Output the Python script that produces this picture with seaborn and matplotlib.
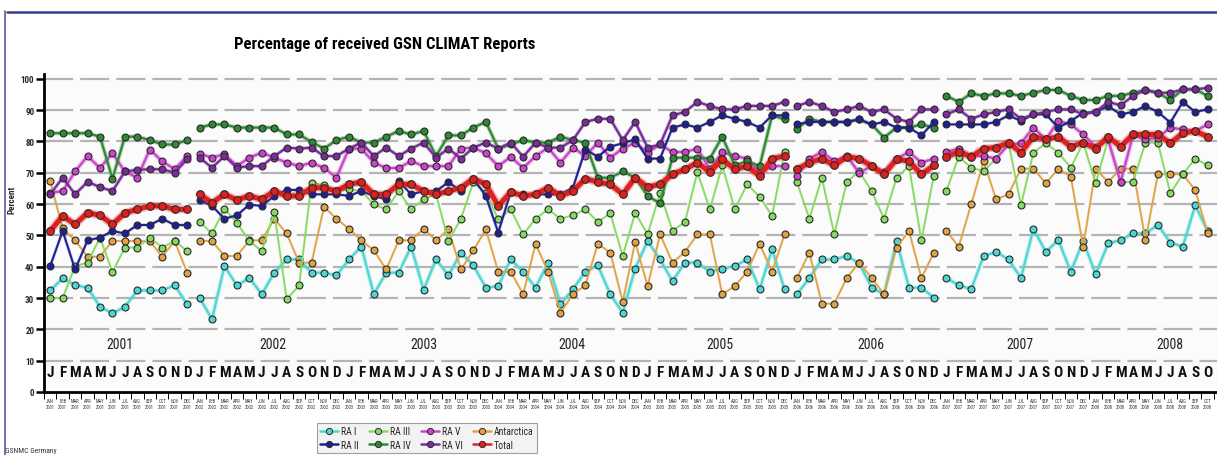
import numpy as np
import pandas as pd
import matplotlib
matplotlib.use("Agg")
import matplotlib.pyplot as plt
import matplotlib.patheffects as pe
from matplotlib.lines import Line2D
from matplotlib import font_manager
import seaborn as sns

# ---------------- data ----------------
month_abbr = ["JAN", "FEB", "MAR", "APR", "MAY", "JUN", "JUL", "AUG", "SEP", "OCT", "NOV", "DEC"]
month_letters = ["J", "F", "M", "A", "M", "J", "J", "A", "S", "O", "N", "D"]
years = [2001, 2002, 2003, 2004, 2005, 2006, 2007, 2008]
n_months = 94  # Jan 2001 .. Oct 2008
panel_starts = [12, 60, 72]  # the chart is a collage: lines break at these months

ra1 = [32.4, 36.3, 34.1, 33.3, 27.2, 25.1, 27.2, 32.4, 32.4, 32.4, 34.1, 28,
       30.1, 23.2,
       40.2, 34, 36.4, 31.2, 38.1, 42.3, 42.3, 38.1, 38.1, 37.2, 42.3, 46.4, 31.2, 38.1, 38.1, 46.4, 32.6,
       42.3, 37.2, 44.5, 40.4, 33.3, 33.8, 42.3, 38.4, 33.3, 41.3, 28, 32.8, 38.4, 40.4, 31.2, 25.3,
       39.4, 48.2, 42.3, 35.4, 41.3, 41.3, 38.4, 39.4, 40.2, 42.3, 32.8, 45.5, 32.8, 31.2, 36.4,
       42.3, 42.3, 43.4, 41.1, 33.3, 31.2, 48.2, 33.3, 33.3, 30.1, 36.4, 34.1, 32.8, 43.4, 44.7, 42.3,
       36.4, 52.1, 44.7, 48.5, 38.4, 48.2, 37.6, 47.4, 48.5, 50.6, 50.6, 53.3, 47.7, 46.4, 59.6, 51.4]
ra2 = [40.2, 51.4, 39.1, 48.4, 49.3, 51.4, 50.6, 53.3, 53.3, 55.3, 53.3, 53.3,
       61.3, 59.4,
       55.3, 56.4, 59.8, 59.4, 62.6, 64.5, 64.5, 63.1, 63.1, 63.1, 62.6, 64.1, 62.6, 61.5, 67.3, 63.1, 64.1,
       64.1, 67, 64.1, 68.1, 62.6, 50.9, 63.8, 63.1, 63.1, 63.1, 63.1, 65.2, 77.4, 75.1, 78.3, 79.4,
       80.6, 74.5, 74.5, 84.4, 85.4, 84.4, 86.2, 88.3, 87.2, 86.2, 84.4, 88.3, 88.3, 85.4, 86.2,
       86.2, 86.2, 86.2, 87, 85.4, 86.2, 84.4, 84.4, 81.9, 86.2, 85.4, 85.4, 85.4, 85.4, 86.2, 88.3,
       86.5, 88.6, 88.6, 84.4, 86.5, 89.1, 89.4, 91.3, 88.6, 89.4, 91.3, 89.4, 86, 92.6, 89.4, 90.2]
ra3 = [30, 30, 40.2, 41.3, 49.3, 38.3, 46.1, 46.1, 49.3, 46.1, 48.2, 45,
       54.3, 50.6,
       58.5, 54, 48.2, 45, 57.4, 29.6, 34, 66.8, 66, 64.1, 64.7, 64.1, 59.9, 58.3, 64.1, 58.3, 61.5,
       63.1, 48.2, 55.3, 67, 63.6, 55.1, 58.3, 50.3, 55.3, 58.3, 55.3, 56.4, 58.3, 54.3, 57, 43.4,
       57.2, 50.3, 63.6, 51.4, 54.3, 70.2, 58.3, 72.3, 58.3, 66.3, 62.3, 56.2, 76.6, 67, 55.3,
       68.4, 50.3, 67, 70.5, 64.1, 55.3, 68.4, 72.1, 48.4, 69.1, 64.1, 75.1, 71.6, 70.5, 74.5, 79.6,
       59.6, 76.4, 79.4, 76.4, 71.6, 79.6, 66.6, 80.6, 67, 67, 79.6, 79.6, 63.4, 69.5, 74.5, 72.3]
ra4 = [82.6, 82.6, 82.6, 82.6, 81.5, 68.1, 81.5, 81.5, 80.4, 79, 79, 80.4,
       84.4, 85.4,
       85.4, 84.4, 84.4, 84.4, 84.4, 82.2, 82.2, 79.8, 77.7, 80.4, 81.5, 79.6, 79.6, 81.5, 83.3, 82.2, 83.3,
       75.3, 81.9, 81.9, 84.4, 86.2, 77.7, 79, 80.4, 79.6, 79.6, 81.5, 80.4, 79.6, 68.4, 68.4, 70.4,
       68.4, 62.6, 60.2, 74.8, 74.8, 74.8, 74.5, 81.5, 72.3, 73.7, 72.1, 88.3, 87, 84, 87.2,
       86.2, 86.2, 86.2, 87, 85.4, 81.2, 84.4, 84.4, 85.4, 84.4, 94.5, 92.6, 95.3, 94.5, 95.3, 95.3,
       94.5, 95.5, 96.4, 96.4, 94.5, 93.2, 93.2, 94.5, 94.5, 95.5, 96.4, 95.5, 93.2, 96.6, 96.6, 94.5]
ra5 = [63.6, 64.1, 70.4, 75.3, 71.5, 76.2, 70.4, 68.4, 77.4, 73.6, 71.1, 75.3,
       76, 74.8,
       75.9, 72.1, 74.8, 76.4, 74.8, 73.2, 72.1, 73.2, 71.5, 68.4, 77.7, 77.7, 73.2, 71.5, 71.5, 73.7, 72.1,
       72.1, 72.1, 77.7, 78, 76.2, 72.1, 75.1, 71.5, 75.3, 78, 73.2, 78, 75.3, 79.6, 74.8, 77.7,
       79.6, 76.4, 79, 76.6, 76.6, 77.7, 71.1, 76.6, 75.3, 74.5, 70, 72.1, 72.1, 68.9, 74.5,
       76.6, 73.7, 75.3, 70, 72.1, 70.2, 74.5, 76.6, 73.2, 74.5, 76.6, 77.7, 75.3, 75.3, 74.5, 79,
       79.4, 84.4, 80.6, 86.5, 85.4, 82.2, 78.3, 80.6, 67, 82, 80.6, 81.2, 84.4, 83.8, 83.3, 85.4]
ra6 = [63.1, 68.4, 63.1, 67.1, 65.4, 64.1, 70.4, 70.9, 71.1, 71.1, 70, 74.3,
       74.8, 71.6,
       75.3, 71.6, 72.1, 72.1, 75.3, 78, 77.7, 78, 75.3, 75.3, 77.7, 79.6, 75.3, 78, 75.3, 77.7, 79.6,
       74.8, 77.7, 74.5, 78, 79.6, 77.7, 79.6, 75.1, 79.6, 78, 78, 80.4, 86.2, 87.2, 87.2, 80.4,
       86.2, 78, 79, 88.3, 89.4, 92.6, 91.3, 90.2, 90.2, 91.3, 91.3, 91.3, 92.6, 91.3, 92.6,
       91.3, 89.4, 90.2, 91.3, 89.4, 90.2, 87.2, 86.2, 90.2, 90.2, 88.6, 90.2, 87.2, 88.6, 89.4, 90.2,
       87.2, 88.6, 89.4, 90.2, 90.2, 88.6, 89.4, 92.6, 91.5, 94.5, 96.4, 95.5, 95.5, 96.6, 96.6, 97.1]
antarctica = [67.3, 52.2, 48.4, 43.2, 43.2, 48.2, 48.2, 48.2, 48.2, 43.2, 48.2, 38.1,
              48.2, 48.2,
              43.4, 43.4, 48.4, 48.4, 55.3, 50.6, 41.3, 41.3, 59.1, 55.3, 52.1, 48.4, 45.2, 39.1, 48.4, 48.4, 52.1,
              48.4, 51.9, 39.1, 45.2, 51.9, 38.4, 38.4, 31.2, 47.3, 38.4, 25.3, 31.2, 34.1, 47.3, 44.5, 28.8,
              47.9, 33.8, 50.3, 41.3, 44.7, 50.3, 50.3, 31.2, 33.8, 38.4, 47.3, 38.4, 50.3, 36.5, 44.5,
              28.2, 28.2, 36.4, 41.3, 36.4, 31.2, 46.1, 51.4, 36.4, 44.5, 51.4, 46.4, 59.9, 73.7, 61.5, 63.1,
              71.3, 71.3, 66.6, 71.3, 68.7, 46.4, 71.3, 67, 71.3, 71.3, 48.4, 69.5, 69.5, 69.5, 64.5, 50.6]
total = [51.4, 56.2, 53.5, 57.2, 56.4, 53.5, 57.2, 58.3, 59.4, 59.4, 58.3, 58.3,
         63.1, 60.4,
         63.1, 61.3, 62.6, 61.5, 64.1, 62.6, 62.6, 65.2, 65.2, 64.1, 66.3, 67, 63.1, 63.1, 66.3, 66.3, 64.1,
         63.1, 64.1, 65.2, 68.1, 66.3, 59.4, 63.8, 62.6, 63.1, 65.2, 62.6, 64.1, 68.1, 67, 66.3, 63.1,
         68.4, 65.4, 66.3, 69.5, 71.1, 73.2, 70.2, 74.3, 71.1, 72.1, 68.9, 74.5, 75.3, 71.1, 73.2,
         74.5, 72.3, 75.1, 74.5, 72.1, 69.5, 74.3, 73.7, 69.5, 72.3, 75.1, 76.6, 75.1, 77.7, 78, 79.6,
         76.4, 81.5, 80.6, 81.5, 78.3, 79.6, 77.7, 81.5, 78.3, 82.2, 82.2, 82.2, 79.4, 82.6, 83.3, 81.5]

series_names = ["RA I", "RA II", "RA III", "RA IV", "RA V", "RA VI", "Antarctica", "Total"]
series_values = [ra1, ra2, ra3, ra4, ra5, ra6, antarctica, total]

# ---------------- styles ----------------
colors = {"RA I": "#4fd6d2", "RA II": "#1f1f96", "RA III": "#86da62", "RA IV": "#2f8a36",
          "RA V": "#cc44cc", "RA VI": "#7a2c9c", "Antarctica": "#e1a244", "Total": "#e0201e"}
widths = {"RA I": 1.6, "RA II": 1.4, "RA III": 1.2, "RA IV": 1.6,
          "RA V": 1.6, "RA VI": 1.6, "Antarctica": 1.2, "Total": 3.6}
halo = {"RA I": 1.6, "RA II": 0.8, "RA III": 0.6, "RA IV": 1.6,
        "RA V": 1.8, "RA VI": 1.2, "Antarctica": 0.6, "Total": 2.2}
draw_order = ["RA I", "Antarctica", "RA III", "RA V", "RA IV", "RA II", "RA VI", "Total"]

sns.set_style("white")
available = {f.name for f in font_manager.fontManager.ttflist}
NARROW = next((f for f in ["Liberation Sans Narrow", "DejaVu Sans Condensed", "Roboto Condensed"]
               if f in available), "Liberation Sans")
plt.rcParams["font.family"] = [NARROW, "DejaVu Sans"]
plt.rcParams["lines.scale_dashes"] = False

rows = []
for name, vals in zip(series_names, series_values):
    for i, v in enumerate(vals):
        rows.append({"series": name, "month": i, "value": v,
                     "panel": int(np.searchsorted(panel_starts, i, side="right"))})
df = pd.DataFrame(rows)

W, H = 1217, 456
fig = plt.figure(figsize=(W / 100, H / 100), dpi=100)
fig.patch.set_facecolor("white")
ax = fig.add_axes([44 / W, (H - 393) / H, (W - 44) / W, 318 / H])
ax.set_facecolor("#fbfbfb")

# dashed horizontal grid
for g in range(10, 101, 10):
    ax.axhline(g, color="#b4b4b4", lw=1.6, ls=(0, (21, 5)), zorder=0)

for k, name in enumerate(draw_order):
    d = df[df["series"] == name]
    c = colors[name]
    lw = widths[name]
    # soft halo under the line
    sns.lineplot(data=d, x="month", y="value", units="panel", estimator=None, ax=ax,
                 color=c, lw=lw + halo[name], alpha=0.3, legend=False, zorder=3 + 2 * k)
    sns.lineplot(data=d, x="month", y="value", units="panel", estimator=None, ax=ax,
                 color=c, lw=lw, marker="o", markersize=5 if name != "Total" else 5.5,
                 markerfacecolor=c, markeredgecolor="#2a2a2a", markeredgewidth=0.8,
                 legend=False, zorder=4 + 2 * k)

ax.set_xlim(-0.48, 93.75)
ax.set_ylim(0, 101.5)
ax.set_xlabel("")
ax.set_ylabel("")

# y axis
ax.set_yticks(range(0, 101, 10))
ax.set_yticklabels([str(v) for v in range(0, 101, 10)], fontsize=6.5, fontweight="bold")
ax.tick_params(axis="y", length=6, width=1.8, color="black", pad=1, left=True)

# x axis: small month/year labels with boundary ticks
ax.set_xticks(range(n_months))
ax.set_xticklabels([f"{month_abbr[i % 12]}\n{years[i // 12]}" for i in range(n_months)],
                   fontsize=3.3, color="#333333", linespacing=1.3)
ax.tick_params(axis="x", which="major", length=0, pad=4)
ax.set_xticks(np.arange(-0.5, n_months, 1), minor=True)
ax.tick_params(axis="x", which="minor", length=5, width=0.7, color="black", bottom=True)

for s in ["top", "right"]:
    ax.spines[s].set_visible(False)
for s in ["left", "bottom"]:
    ax.spines[s].set_color("black")
    ax.spines[s].set_linewidth(2)

# month letters and year labels inside the plot
for i in range(n_months):
    ax.text(i, 6.3, month_letters[i % 12], ha="center", va="center",
            fontsize=11, fontweight="bold", color="#111111", zorder=2)
year_pos = [5.6, 17.9, 30.0, 41.9, 53.8, 65.9, 77.9, 90.0]
for yr, xp in zip(years, year_pos):
    ax.text(xp, 15.2, str(yr), ha="center", va="center", fontsize=10, color="#222222", zorder=2)

# texts
fig.text(385 / W, 1 - 45 / H, "Percentage of received GSN CLIMAT Reports",
         ha="center", va="center", fontsize=12, fontweight="bold", color="black")
fig.text(12 / W, 1 - 200 / H, "Percent", rotation=90, ha="center", va="center",
         fontsize=6.5, fontweight="bold")
fig.text(5 / W, 1 - 451 / H, "GSNMC Germany", ha="left", va="center", fontsize=5.5, color="#333333")

# frame lines of the panel
fig.add_artist(Line2D([7 / W, 1], [1 - 12.5 / H, 1 - 12.5 / H], color="#3a3a8a", lw=1.8,
                      transform=fig.transFigure))
fig.add_artist(Line2D([5 / W, 5 / W], [0, 1 - 12 / H], color="#5a5aa8", lw=1.2,
                      transform=fig.transFigure))

# legend
handles = [Line2D([0], [0], color=colors[n], lw=1.8, marker="o", markersize=4.5,
                  markerfacecolor=colors[n], markeredgecolor="#2a2a2a", markeredgewidth=0.7)
           for n in series_names]
leg = fig.legend(handles, series_names, ncol=4, loc="upper left",
                 bbox_to_anchor=(312 / W, 1 - 419 / H), fontsize=7, frameon=True,
                 fancybox=False, handlelength=1.8, handletextpad=0.3, columnspacing=1.1,
                 labelspacing=0.35, borderpad=0.35)
leg.get_frame().set_facecolor("#f0f0f0")
leg.get_frame().set_edgecolor("#8a8a8a")
leg.get_frame().set_linewidth(0.8)

fig.savefig("out.png", dpi=100)
